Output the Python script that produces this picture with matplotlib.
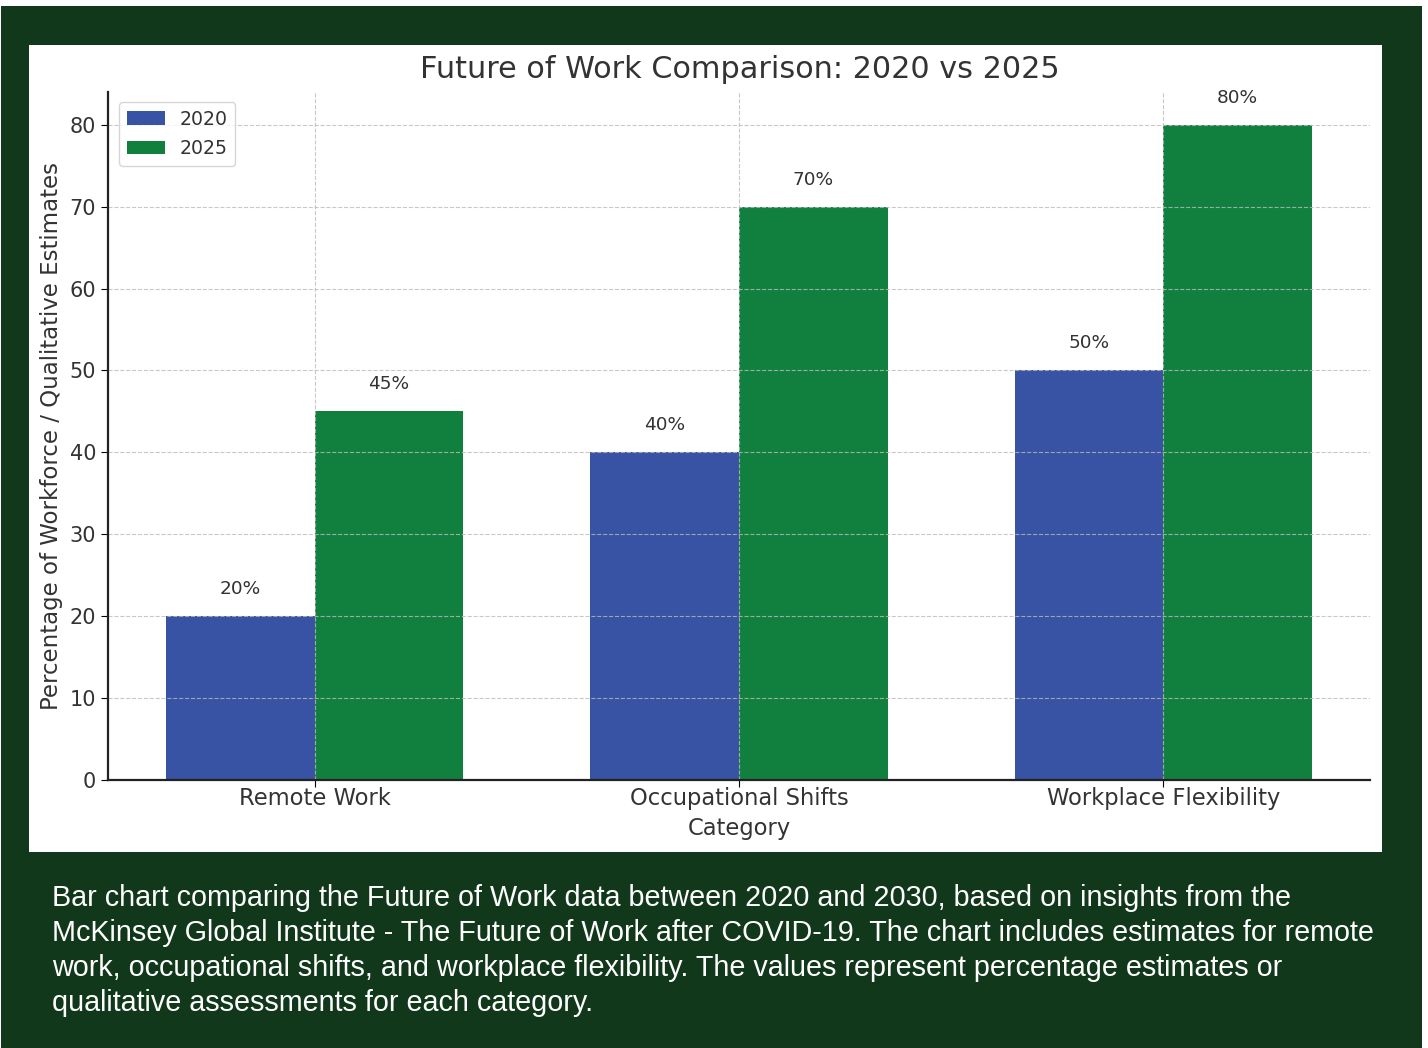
import numpy as np
import matplotlib
matplotlib.use("Agg")
import matplotlib.pyplot as plt
from matplotlib.patches import Rectangle

# Данные
categories = ["Remote Work", "Occupational Shifts", "Workplace Flexibility"]
years = ["2020", "2025"]
values_2020 = [20, 40, 50]
values_2025 = [45, 70, 80]

caption_lines = [
    "Bar chart comparing the Future of Work data between 2020 and 2030, based on insights from the",
    "McKinsey Global Institute - The Future of Work after COVID-19. The chart includes estimates for remote",
    "work, occupational shifts, and workplace flexibility. The values represent percentage estimates or",
    "qualitative assessments for each category.",
]

W, H = 1428, 1048
dark = "#12381c"
text_c = "#333333"

fig = plt.figure(figsize=(W / 100, H / 100), dpi=100, facecolor="white")

# тёмно-зелёный фон и белая панель
fig.patches.append(Rectangle((1 / W, 0), 1421 / W, 1 - 6 / H, transform=fig.transFigure,
                             facecolor=dark, edgecolor="none", zorder=-2))
fig.patches.append(Rectangle((29 / W, 1 - 852 / H), 1353 / W, 807 / H, transform=fig.transFigure,
                             facecolor="white", edgecolor="none", zorder=-1))

ax = fig.add_axes([108 / W, 1 - 780 / H, 1262 / W, 688 / H])
ax.set_facecolor("none")

x = np.arange(len(categories))
width = 0.35
b1 = ax.bar(x - width / 2, values_2020, width, color="#3852a4", label=years[0])
b2 = ax.bar(x + width / 2, values_2025, width, color="#11803e", label=years[1])

for bars, vals in ((b1, values_2020), (b2, values_2025)):
    for bar, v in zip(bars, vals):
        ax.annotate(f"{v}%", (bar.get_x() + bar.get_width() / 2, v),
                    xytext=(0, 19.5), textcoords="offset points",
                    ha="center", va="center", fontsize=13.3, color=text_c)

ax.set_xticks(x)
ax.set_xticklabels(categories, fontsize=16.3, color=text_c)
ax.tick_params(axis="y", labelsize=15, labelcolor=text_c, length=5)
ax.tick_params(axis="x", length=5, pad=0)
ax.set_xlabel("Category", fontsize=16.3, color=text_c, labelpad=5)
ax.set_ylabel("Percentage of Workforce / Qualitative Estimates", fontsize=16.5, color=text_c, labelpad=5)
ax.set_ylim(0, 84)
ax.set_xlim(-0.487, 2.487)
ax.grid(True, linestyle="--", color="#bbbbbb", linewidth=0.8, alpha=0.8)
for s in ("top", "right"):
    ax.spines[s].set_visible(False)
for s in ("left", "bottom"):
    ax.spines[s].set_color("#222222")
    ax.spines[s].set_linewidth(1.6)

leg = ax.legend(loc="upper left", fontsize=13.6, frameon=True, handlelength=2.0,
                borderpad=0.4, labelspacing=0.55, handletextpad=0.8,
                bbox_to_anchor=(0.0015, 0.999))
for t in leg.get_texts():
    t.set_color(text_c)
leg.get_frame().set_edgecolor("#cccccc")

fig.text(740 / W, 1 - 70 / H, "Future of Work Comparison: 2020 vs 2025", ha="center", va="center",
         fontsize=21.8, color=text_c)

for i, line in enumerate(caption_lines):
    fig.text(52 / W, 1 - (898 + 35 * i) / H, line, ha="left", va="center", fontsize=20.7,
             color="white", family="Liberation Sans")

fig.savefig("out.png", dpi=100, facecolor=fig.get_facecolor())
